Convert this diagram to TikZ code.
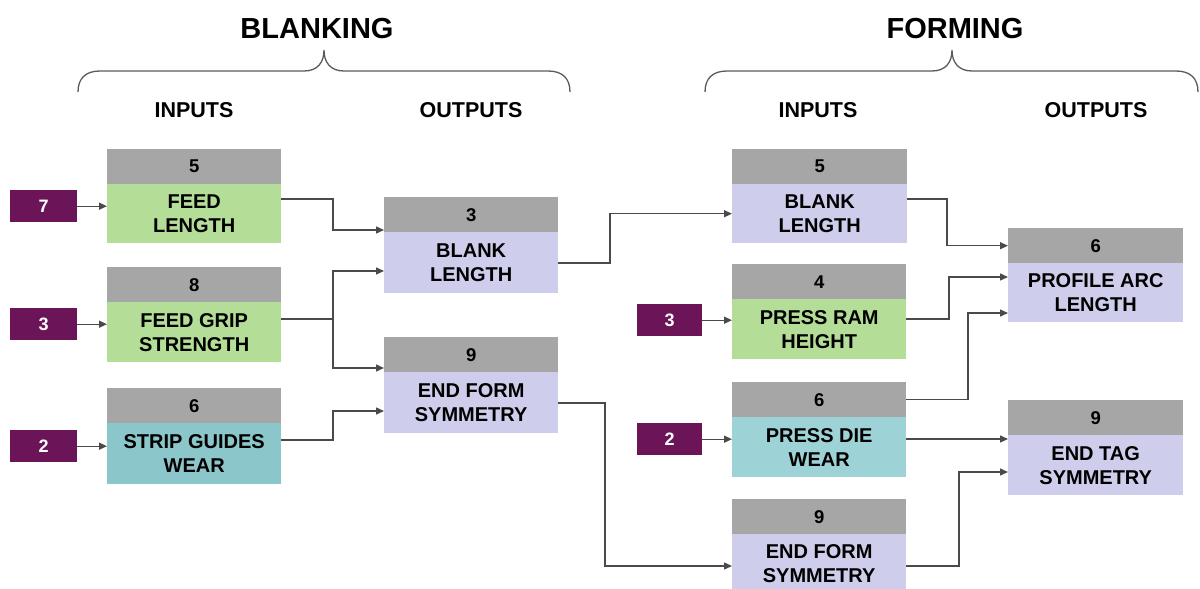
\documentclass[tikz,border=0pt]{standalone}
\usepackage{fontspec}
\setmainfont{Liberation Sans}
\usetikzlibrary{arrows.meta,calc}
\definecolor{hdrc}{HTML}{A6A6A6}
\definecolor{grnc}{HTML}{B4DE97}
\definecolor{lavc}{HTML}{CECEEC}
\definecolor{tealA}{HTML}{8BC6CB}
\definecolor{tealB}{HTML}{9DD3D6}
\definecolor{purc}{HTML}{6B1457}
\definecolor{linec}{HTML}{4A4A4A}
\definecolor{bracec}{HTML}{5A5A5A}
\begin{document}
\begin{tikzpicture}[x=1pt,y=-1pt,
  hdrbox/.style={fill=hdrc, minimum width=174pt, minimum height=35pt, inner sep=0pt, anchor=north west,
    font=\bfseries\fontsize{18.5}{22}\selectfont},
  bodybox/.style={minimum width=174pt, minimum height=60pt, inner sep=0pt, anchor=north west, align=center,
    font=\bfseries\fontsize{20}{24}\selectfont},
  pbox/.style={fill=purc, text=white, minimum width=67pt, minimum height=32pt, inner sep=0pt, anchor=north west,
    font=\bfseries\fontsize{18}{20}\selectfont},
  title/.style={font=\bfseries\fontsize{29}{32}\selectfont, inner sep=0pt},
  sub/.style={font=\bfseries\fontsize{21.5}{24}\selectfont, inner sep=0pt},
  conn/.style={draw=linec, line width=1.4pt, -{Triangle[length=8pt,width=7pt]}},
  brace/.style={draw=bracec, line width=1.3pt}]
\useasboundingbox (0,0) rectangle (1200,589);

% titles
\node[title] (tBl) at (317,28.5) {BLANKING};
\node[title] (tFo) at (955,28.5) {FORMING};
\node[sub] (inL) at (194,110) {INPUTS};
\node[sub] (outL) at (471,110) {OUTPUTS};
\node[sub] (inR) at (818,110) {INPUTS};
\node[sub] (outR) at (1096,110) {OUTPUTS};

% braces
\draw[brace] (78,92) .. controls (78,78) and (86,71) .. (100,71) -- (304,71)
  .. controls (318,71) and (324,62) .. (324,50)
  .. controls (324,62) and (330,71) .. (344,71) -- (548,71)
  .. controls (562,71) and (570,78) .. (570,92);
\draw[brace] (705,92) .. controls (705,78) and (713,71) .. (727,71) -- (932,71)
  .. controls (946,71) and (952,62) .. (952,50)
  .. controls (952,62) and (958,71) .. (972,71) -- (1176,71)
  .. controls (1190,71) and (1198,78) .. (1198,92);

% blanking inputs
\node[hdrbox] (l1h) at (107,149) {5};
\node[bodybox, fill=grnc, minimum height=59pt] (l1b) at (107,184) {FEED\\LENGTH};
\node[hdrbox] (l2h) at (107,267) {8};
\node[bodybox, fill=grnc] (l2b) at (107,302) {FEED GRIP\\STRENGTH};
\node[hdrbox] (l3h) at (107,388) {6};
\node[bodybox, fill=tealA, minimum height=61pt] (l3b) at (107,423) {STRIP GUIDES\\WEAR};

% blanking outputs
\node[hdrbox] (m1h) at (384,197) {3};
\node[bodybox, fill=lavc, minimum height=61pt] (m1b) at (384,232) {BLANK\\LENGTH};
\node[hdrbox] (m2h) at (384,337) {9};
\node[bodybox, fill=lavc, minimum height=61pt] (m2b) at (384,372) {END FORM\\SYMMETRY};

% forming inputs
\node[hdrbox, minimum width=175pt] (r1h) at (732,149) {5};
\node[bodybox, fill=lavc, minimum width=175pt, minimum height=59pt] (r1b) at (732,184) {BLANK\\LENGTH};
\node[hdrbox, minimum width=174pt] (r2h) at (732,264) {4};
\node[bodybox, fill=grnc, minimum width=174pt] (r2b) at (732,299) {PRESS RAM\\HEIGHT};
\node[hdrbox, minimum width=174pt] (r3h) at (732,382) {6};
\node[bodybox, fill=tealB, minimum width=174pt] (r3b) at (732,417) {PRESS DIE\\WEAR};
\node[hdrbox, minimum width=174pt] (r4h) at (732,499) {9};
\node[bodybox, fill=lavc, minimum width=174pt, minimum height=59pt] (r4b) at (732,534) {END FORM\\SYMMETRY};

% forming outputs
\node[hdrbox, minimum width=175pt] (o1h) at (1008,228) {6};
\node[bodybox, fill=lavc, minimum width=175pt, minimum height=59pt] (o1b) at (1008,263) {PROFILE ARC\\LENGTH};
\node[hdrbox, minimum width=175pt] (o2h) at (1008,400) {9};
\node[bodybox, fill=lavc, minimum width=175pt] (o2b) at (1008,435) {END TAG\\SYMMETRY};

% purple boxes
\node[pbox] (p1) at (10,190) {7};
\node[pbox] (p2) at (10,308) {3};
\node[pbox] (p3) at (10,430) {2};
\node[pbox, minimum width=65pt] (p4) at (637,304) {3};
\node[pbox, minimum width=65pt] (p5) at (637,423) {2};

\draw[conn] (p1.east) -- (p1.east -| l1b.west);
\draw[conn] (p2.east) -- (p2.east -| l2b.west);
\draw[conn] (p3.east) -- (p3.east -| l3b.west);
\draw[conn] (p4.east) -- (p4.east -| r2b.west);
\draw[conn] (p5.east) -- (p5.east -| r3b.west);

% junction columns
\coordinate (jA) at (333,0);
\coordinate (jB) at (610,0);
\coordinate (jC) at (605,0);
\coordinate (jD) at (947,0);
\coordinate (jE) at (949,0);
\coordinate (jF) at (968,0);
\coordinate (jG) at (959,0);

% starts
\coordinate (s1) at ([yshift=-15pt]l1b.north east);
\coordinate (s2) at ([yshift=-17pt]l2b.north east);
\coordinate (s3) at ([yshift=-17pt]l3b.north east);
\coordinate (s4) at ([yshift=-31pt]m1b.north east);
\coordinate (s5) at ([yshift=-31pt]m2b.north east);
\coordinate (s6) at ([yshift=-15pt]r1b.north east);
\coordinate (s7) at ([yshift=-20pt]r2b.north east);
\coordinate (s8) at (r3h.east);
\coordinate (s9) at ([yshift=-22pt]r3b.north east);
\coordinate (s10) at ([yshift=-32pt]r4b.north east);
% ends
\coordinate (e1) at ([yshift=2pt]m1b.north west);
\coordinate (e2a) at ([yshift=-39pt]m1b.north west);
\coordinate (e2b) at ([yshift=4pt]m2b.north west);
\coordinate (e3) at ([yshift=-39pt]m2b.north west);
\coordinate (e4) at (r1b.west);
\coordinate (e5) at ([yshift=-32pt]r4b.north west);
\coordinate (e6) at (o1h.west);
\coordinate (e7) at ([yshift=-14pt]o1b.north west);
\coordinate (e8) at ([yshift=-50pt]o1b.north west);
\coordinate (e10) at ([yshift=-37pt]o2b.north west);

\draw[conn] (s1) -- (s1 -| jA) |- (e1);
\draw[conn] (s2) -- (s2 -| jA) |- (e2a);
\draw[conn] (s2 -| jA) |- (e2b);
\draw[conn] (s3) -- (s3 -| jA) |- (e3);
\draw[conn] (s4) -- (s4 -| jB) |- (e4);
\draw[conn] (s5) -- (s5 -| jC) |- (e5);
\draw[conn] (s6) -- (s6 -| jD) |- (e6);
\draw[conn] (s7) -- (s7 -| jE) |- (e7);
\draw[conn] (s8) -- (s8 -| jF) |- (e8);
\draw[conn] (s9) -- (s9 -| o2b.west);
\draw[conn] (s10) -- (s10 -| jG) |- (e10);
\end{tikzpicture}
\end{document}
